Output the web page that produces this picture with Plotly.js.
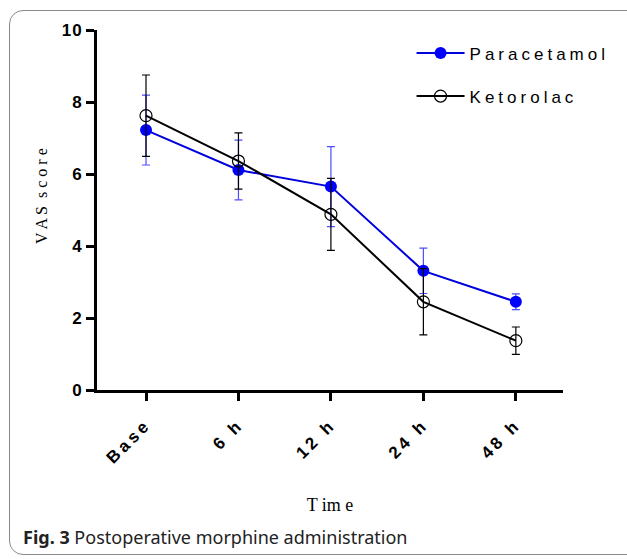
<!DOCTYPE html>
<html>
<head>
<meta charset="utf-8">
<script src="https://cdn.plot.ly/plotly-3.0.1.min.js"></script>
<style>
html, body { margin: 0; padding: 0; background: #fff; overflow: hidden; }
#wrap { position: relative; width: 627px; height: 559px; }
#chart { position: absolute; left: 0; top: 0; width: 627px; height: 559px; }
#frame { position: absolute; left: 9px; top: 10px; width: 700px; height: 545px; border: 1.5px solid #8a8a8a; border-radius: 14px; pointer-events: none; box-sizing: border-box; }
.legendtext { letter-spacing: 4px; }
.xtick text { letter-spacing: 3.5px; }
.ytick text { letter-spacing: 1px; }
</style>
</head>
<body>
<div id="wrap">
<div id="chart"></div>
<div id="frame"></div>
</div>
<script>
const categories = ['Base', '6 h', '12 h', '24 h', '48 h'];
const paracetamolMean = [7.22, 6.11, 5.65, 3.31, 2.45];
const paracetamolSD = [0.97, 0.83, 1.11, 0.63, 0.22];
const ketorolacMean = [7.62, 6.36, 4.88, 2.45, 1.37];
const ketorolacSD = [1.13, 0.78, 1.00, 0.92, 0.38];
const yTickVals = [0, 2, 4, 6, 8, 10];

const xIdx = categories.map((c, i) => i);

const traces = [
  {
    x: xIdx, y: paracetamolMean, name: 'Paracetamol', type: 'scatter', mode: 'lines+markers',
    legendgroup: 'a',
    line: { color: '#0000dd', width: 2 },
    marker: { color: '#0000ff', size: 12, symbol: 'circle', line: { color: '#0000ff', width: 0 } },
    error_y: { type: 'data', array: paracetamolSD, visible: true, color: '#4d4dff', thickness: 1.2, width: 4 }
  },
  {
    x: xIdx, y: ketorolacMean, name: 'Ketorolac', type: 'scatter', mode: 'lines+markers',
    legendgroup: 'b',
    line: { color: '#000000', width: 2 },
    marker: { color: '#000000', size: 12, symbol: 'circle-open', line: { color: '#000000', width: 1.2 } },
    error_y: { type: 'data', array: ketorolacSD, visible: true, color: '#000000', thickness: 1.2, width: 4 }
  }
];

const layout = {
  width: 627, height: 559,
  margin: { l: 97, r: 64, t: 30, b: 169 },
  paper_bgcolor: '#ffffff', plot_bgcolor: '#ffffff',
  showlegend: true,
  legend: {
    x: 0.675, y: 0.985, xanchor: 'left', yanchor: 'top',
    font: { family: 'Liberation Sans, Arial, sans-serif', size: 17, color: '#000' },
    traceorder: 'grouped', tracegroupgap: 18, itemwidth: 48,
    bgcolor: 'rgba(0,0,0,0)'
  },
  xaxis: {
    range: [-0.53, 4.51],
    tickmode: 'array', tickvals: xIdx, ticktext: categories,
    tickangle: -45,
    tickfont: { family: 'Liberation Sans, Arial, sans-serif', size: 17, color: '#000', weight: 'bold' },
    ticklabelstandoff: 7,
    showline: true, linewidth: 3, linecolor: '#000',
    ticks: 'outside', ticklen: 8, tickwidth: 3, tickcolor: '#000',
    showgrid: false, zeroline: false,
    title: { text: 'T im e', font: { family: 'Liberation Serif, Times New Roman, serif', size: 18, color: '#000' }, standoff: 33 }
  },
  yaxis: {
    range: [0, 10],
    tickmode: 'array', tickvals: yTickVals, ticktext: yTickVals.map(String),
    tickfont: { family: 'Liberation Sans, Arial, sans-serif', size: 17, color: '#000', weight: 'bold' },
    showline: true, linewidth: 3, linecolor: '#000',
    ticks: 'outside', ticklen: 8, tickwidth: 3, tickcolor: '#000',
    showgrid: false, zeroline: false
  },
  annotations: [
    {
      xref: 'paper', yref: 'paper', x: -0.118, y: 0.539, xanchor: 'center', yanchor: 'middle',
      textangle: -90,
      text: 'V A S  s c o r e', showarrow: false,
      font: { family: 'Liberation Serif, Times New Roman, serif', size: 16, color: '#000' }
    },
    {
      xref: 'paper', yref: 'paper', x: -0.163, y: -0.408, xanchor: 'left', yanchor: 'middle',
      text: '<b>Fig. 3</b> Postoperative morphine administration', showarrow: false,
      font: { family: 'Noto Sans, Open Sans, sans-serif', size: 18, color: '#222' }
    }
  ]
};

Plotly.newPlot('chart', traces, layout, { displayModeBar: false, staticPlot: true });
</script>
</body>
</html>
